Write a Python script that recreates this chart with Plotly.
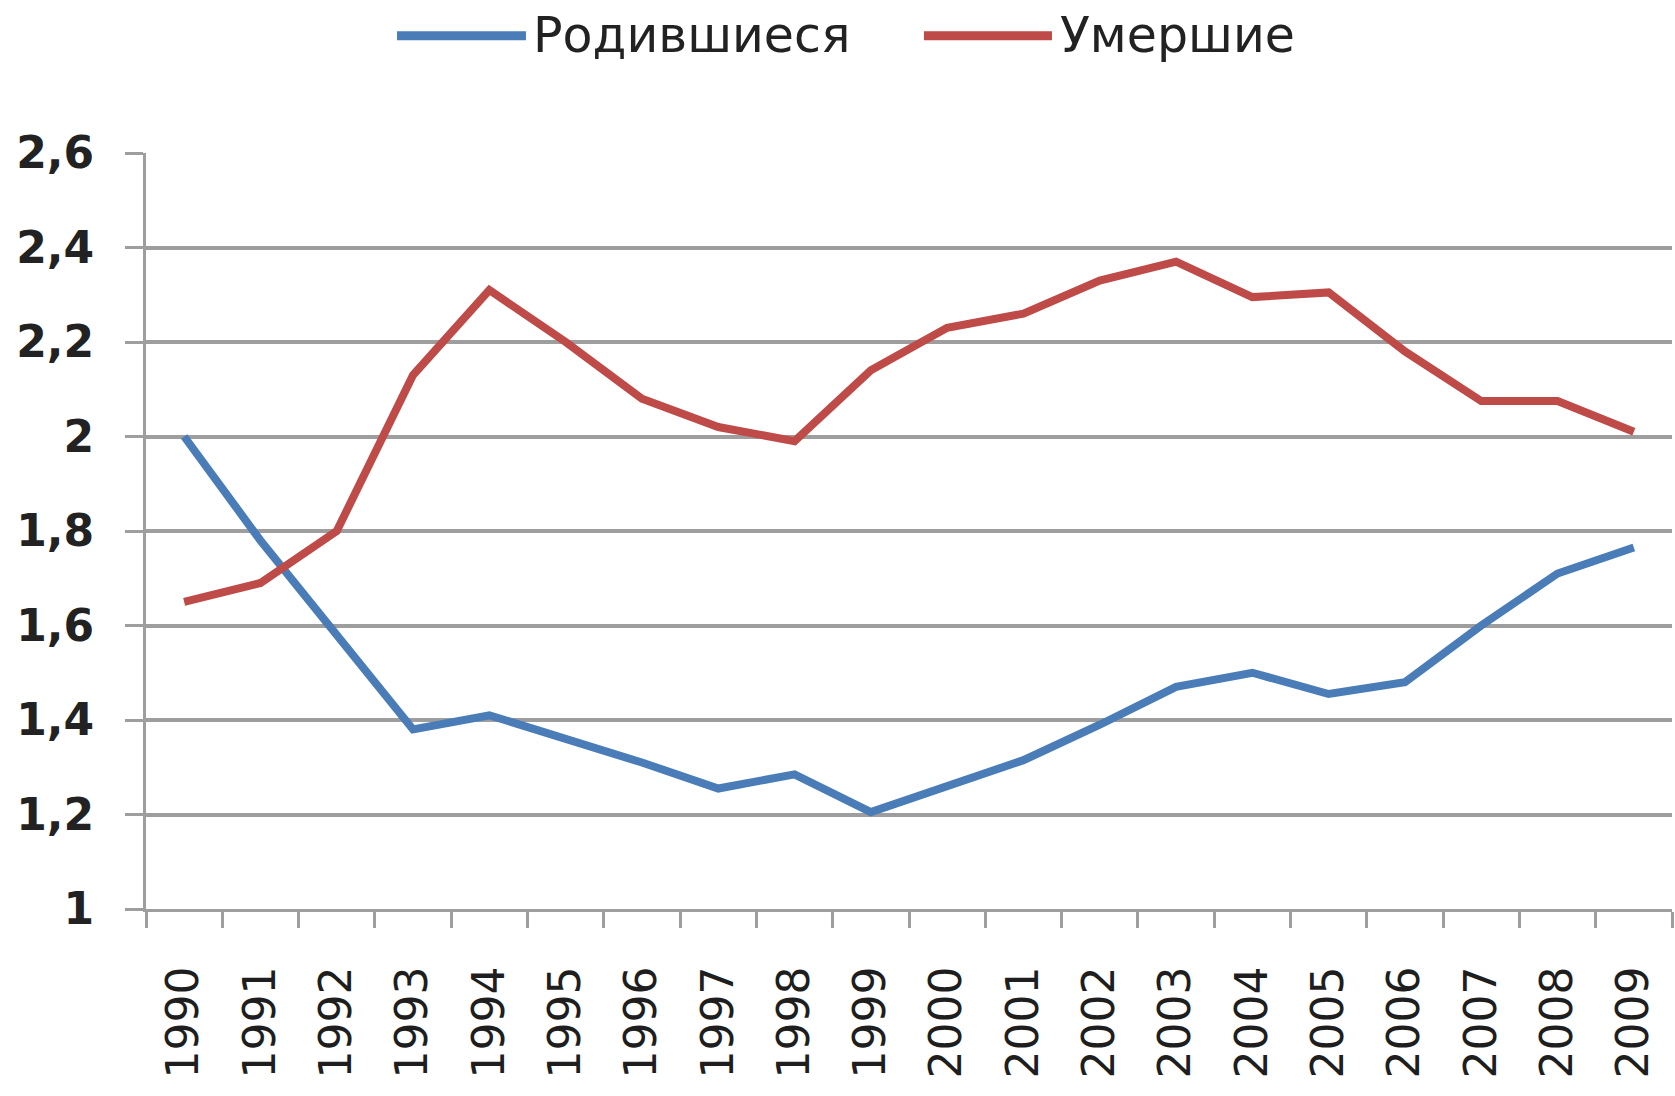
import plotly.graph_objects as go

years = [str(y) for y in range(1990, 2010)]
births = [2.00, 1.78, 1.58, 1.38, 1.41, 1.36, 1.31, 1.255, 1.285, 1.205,
          1.26, 1.315, 1.39, 1.47, 1.50, 1.455, 1.48, 1.60, 1.71, 1.765]
deaths = [1.65, 1.69, 1.80, 2.13, 2.31, 2.20, 2.08, 2.02, 1.99, 2.14,
          2.23, 2.26, 2.33, 2.37, 2.295, 2.305, 2.18, 2.075, 2.075, 2.01]
y_ticks = [1.0, 1.2, 1.4, 1.6, 1.8, 2.0, 2.2, 2.4, 2.6]
y_labels = ["1", "1,2", "1,4", "1,6", "1,8", "2", "2,2", "2,4", "2,6"]
names = ["Родившиеся", "Умершие"]
colors = ["#4A7DB8", "#BE4B48"]

fig = go.Figure()
for vals, name, col in zip([births, deaths], names, colors):
    fig.add_trace(go.Scatter(x=years, y=vals, mode="lines", name=name,
                             line=dict(color=col, width=8), showlegend=False))

grid = "#9E9E9E"
fig.update_layout(
    width=1675, height=1096,
    margin=dict(l=146, r=3, t=153, b=187),
    paper_bgcolor="white", plot_bgcolor="white",
    xaxis=dict(type="category", range=[-0.5, 19.5], automargin=False,
               showline=True, linecolor=grid, linewidth=3,
               ticks="outside", tickson="boundaries", ticklen=16, tickwidth=3,
               tickcolor=grid, tickangle=-90, showgrid=False, zeroline=False,
               ticklabelstandoff=37,
               tickfont=dict(family="DejaVu Sans", size=44, color="#1E1E1E")),
    yaxis=dict(range=[1, 2.6], tickvals=y_ticks, ticktext=y_labels,
               automargin=False,
               showgrid=True, gridcolor=grid, gridwidth=3.5,
               showline=True, linecolor=grid, linewidth=3,
               ticks="outside", ticklen=18, tickwidth=3, tickcolor=grid,
               ticklabelstandoff=22, zeroline=False,
               tickfont=dict(family="DejaVu Sans", size=44, color="#222222",
                             weight="bold")),
)

# legend drawn at top
leg_y = 1.155
legend_items = [(0.1645, 0.249, 0.2523), (0.5098, 0.5937, 0.5976)]
for (x0, x1, xt), name, col in zip(legend_items, names, colors):
    fig.add_shape(type="line", xref="paper", yref="paper", x0=x0, x1=x1,
                  y0=leg_y, y1=leg_y, line=dict(color=col, width=9))
    fig.add_annotation(xref="paper", yref="paper", x=xt, y=leg_y, text=name,
                       showarrow=False, xanchor="left", yanchor="middle",
                       font=dict(family="DejaVu Sans", size=49, color="#222222"))

fig.write_html("out.html", config={"displayModeBar": False},
               post_script="document.body.style.margin='0px';")
